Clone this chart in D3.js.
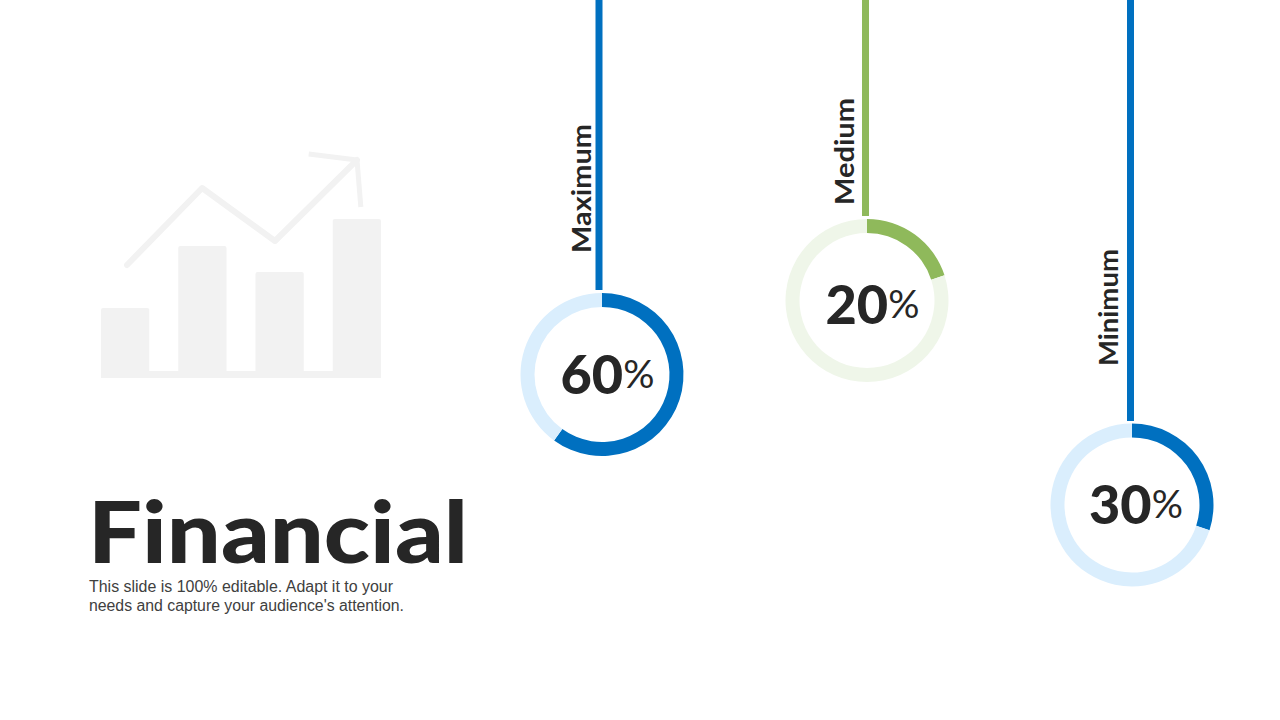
<!DOCTYPE html>
<html><head><meta charset="utf-8">
<script src="https://cdn.jsdelivr.net/npm/d3@7"></script>
<style>html,body{margin:0;padding:0;background:#fff;overflow:hidden}svg{display:block}</style>
</head><body><svg id="c" width="1280" height="720"></svg>
<script>
const categories = ["Maximum","Medium","Minimum"];
const values = [60,20,30];
const iconBars = [70,132,106,159];
const iconLine = [[0,54],[0.98,131],[1.93,78],[3,159]];
const iconHead = [[2.37,165],[3,159],[3.05,112]];
const heading = "Financial";
const bodyLines = ["This slide is 100% editable. Adapt it to your","needs and capture your audience's attention."];

const svg = d3.select("#c");
const dark = "#262626", font = "Lato, 'Open Sans', sans-serif";
const layout = [
 {cx:602,cy:374.5,lineX:599,lineEnd:290,main:"#0070C0",light:"#DAEEFD",labelX:580,labelY:188.5,labelW:129,tx:607.5,ty:372.5},
 {cx:867,cy:300.5,lineX:865.5,lineEnd:216,main:"#8FB95B",light:"#EFF6E9",labelX:843,labelY:151.5,labelW:107,tx:872.5,ty:303},
 {cx:1132,cy:505,lineX:1130.5,lineEnd:421,main:"#0070C0",light:"#DAEEFD",labelX:1107,labelY:307.5,labelW:117,tx:1136,ty:503}
];

// background icon
const icon = svg.append("g");
const x = d3.scaleBand().domain(d3.range(iconBars.length)).range([101,381]).paddingInner(0.375).paddingOuter(0);
const y = d3.scaleLinear().domain([0,159]).range([378,219]);
icon.append("rect").attr("x",101).attr("y",371).attr("width",280).attr("height",7).attr("fill","#F2F2F2");
icon.selectAll("rect.b").data(iconBars).join("rect").attr("class","b")
  .attr("x",(d,i)=>x(i)).attr("width",x.bandwidth()).attr("y",d=>y(d)).attr("height",d=>378-y(d))
  .attr("rx",2).attr("fill","#F2F2F2");
const lx = d3.scaleLinear().domain([0,3]).range([127,357]);
const ly = d3.scaleLinear().domain([0,168]).range([319,151]);
const lineGen = d3.line().x(d=>lx(d[0])).y(d=>ly(d[1]));
icon.append("path").attr("d",lineGen(iconLine))
  .attr("fill","none").attr("stroke","#F2F2F2").attr("stroke-width",6).attr("stroke-linecap","round").attr("stroke-linejoin","round");
icon.append("path").attr("d",lineGen(iconHead))
  .attr("fill","none").attr("stroke","#F2F2F2").attr("stroke-width",5).attr("stroke-linejoin","round");

// rings
const pie = d3.pie().sort(null).value(d=>d);
const arc = d3.arc().innerRadius(67.5).outerRadius(81.5);
categories.forEach((c,i)=>{
  const L = layout[i], g = svg.append("g");
  g.append("rect").attr("x",L.lineX-3.5).attr("y",0).attr("width",7).attr("height",L.lineEnd).attr("fill",L.main);
  const rg = g.append("g").attr("transform",`translate(${L.cx},${L.cy})`);
  rg.selectAll("path").data(pie([values[i],100-values[i]])).join("path")
    .attr("d",arc).attr("fill",(d,j)=>j===0?L.main:L.light);
  const t = g.append("text").attr("x",L.tx).attr("y",L.ty).attr("text-anchor","middle").attr("dominant-baseline","central")
    .attr("font-family",font).attr("fill",dark);
  t.append("tspan").attr("font-size",54).attr("font-weight",900).text(values[i]);
  t.append("tspan").attr("font-size",39).attr("font-weight",400).text("%");
  g.append("text").attr("transform",`translate(${L.labelX},${L.labelY}) rotate(-90)`)
    .attr("text-anchor","middle").attr("dominant-baseline","central")
    .attr("font-family",font).attr("font-weight",700).attr("font-size",27).attr("fill",dark)
    .attr("textLength",L.labelW).attr("lengthAdjust","spacingAndGlyphs").text(c);
});

// title
svg.append("text").attr("x",88).attr("y",563).attr("font-family",font).attr("font-weight",900)
  .attr("font-size",86).attr("fill",dark).attr("textLength",380).attr("lengthAdjust","spacingAndGlyphs").text(heading);
svg.selectAll("text.body").data(bodyLines).join("text").attr("class","body")
  .attr("x",89).attr("y",(d,i)=>592+i*19).attr("font-family","'Liberation Sans',Arial,sans-serif")
  .attr("font-size",16).attr("fill","#404040").attr("textLength",(d,i)=>i?315:304).attr("lengthAdjust","spacingAndGlyphs").text(d=>d);
</script></body></html>
